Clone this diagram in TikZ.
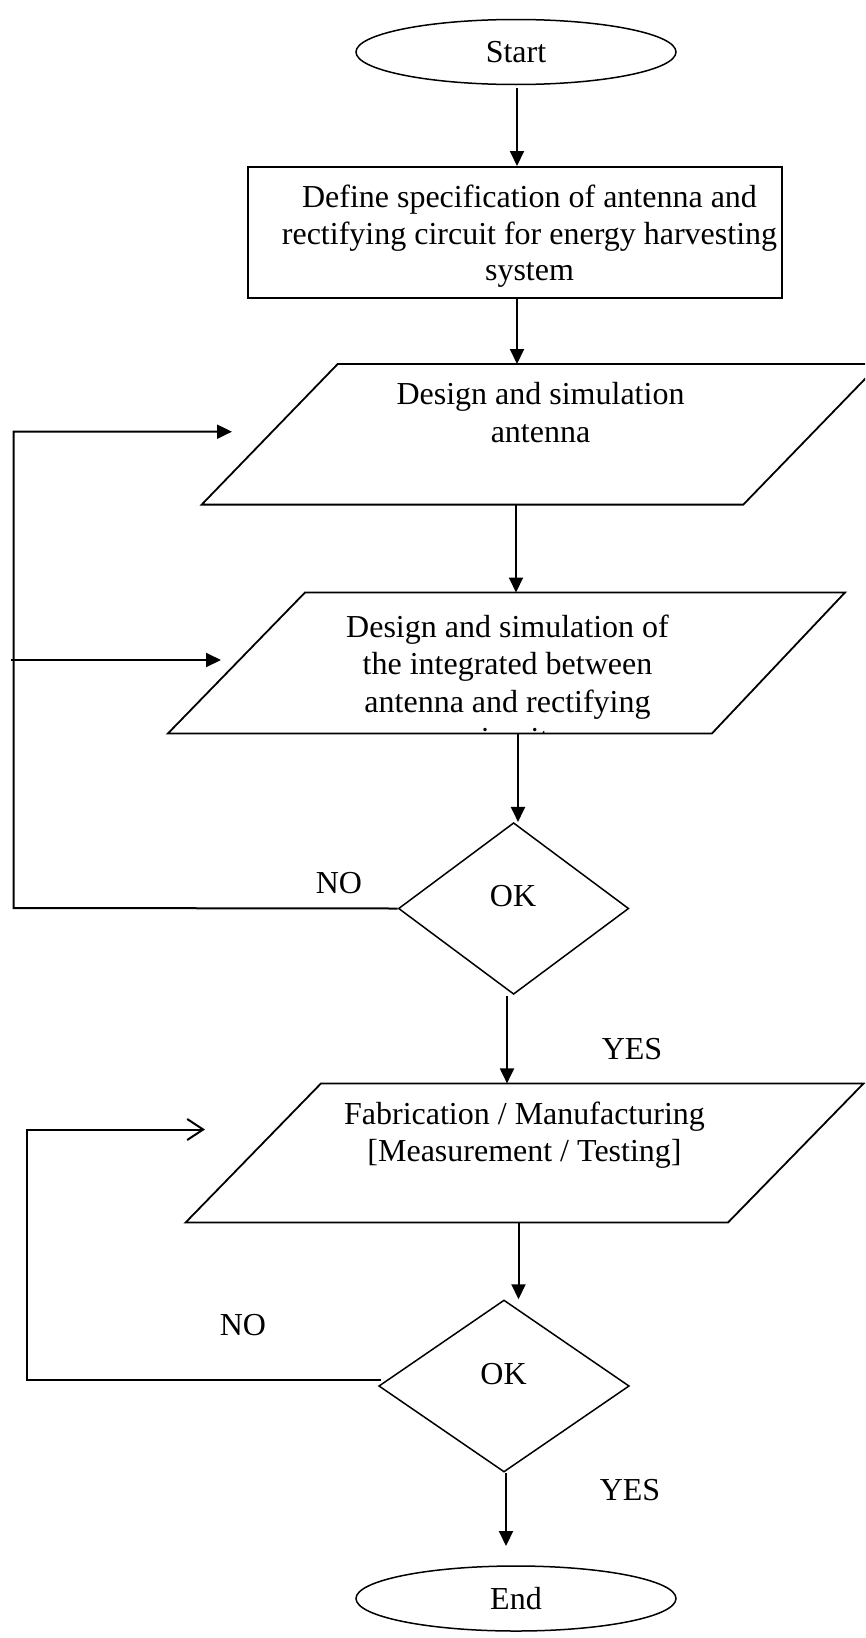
\documentclass[tikz,border=0pt]{standalone}
\usepackage{fontspec}
\setmainfont{Liberation Serif}
\usetikzlibrary{arrows.meta,shapes.geometric}
\begin{document}
\begin{tikzpicture}[x=1pt,y=-1pt,
  font=\fontsize{32}{37.6}\selectfont,
  oval/.style={ellipse, draw, line width=1.5pt, minimum width=320pt, minimum height=65pt, inner sep=0pt},
  box/.style={rectangle, draw, line width=2pt, inner sep=0pt},
  para/.style={draw, line width=1.8pt, line join=miter},
  dia/.style={diamond, draw, line width=1.5pt, inner sep=0pt},
  txt/.style={align=center, inner sep=0pt},
  lbl/.style={anchor=base, inner sep=0pt},
  arr/.style={line width=2pt, -{Triangle[length=15pt,width=14pt]}},
  openarr/.style={line width=2pt, -{Straight Barb[length=16pt,width=21pt,line width=2pt]}}
]
\clip (0,0) rectangle (865,1638);
\fill[white] (0,0) rectangle (865,1638);

% x positions of the vertical connectors
\coordinate (cx1) at (517,0);
\coordinate (cx2) at (516,0);
\coordinate (cx3) at (518,0);
\coordinate (cx4) at (507,0);
\coordinate (cx5) at (518.5,0);
\coordinate (cx6) at (506,0);

% Start
\node[oval] (start) at (516,52) {Start};

% specification box
\node[box, minimum width=534pt, minimum height=131pt] (spec) at (515,232.5) {};
\node[txt, anchor=north, font=\fontsize{32}{36.5}\selectfont] (spect) at (529.5,184.9)
  {Define specification of antenna and\\rectifying circuit for energy harvesting\\system};

% parallelogram 1
\coordinate (p1a) at (337.7,364);
\coordinate (p1b) at (879.5,364);
\coordinate (p1c) at (743.3,504.6);
\coordinate (p1d) at (201.7,504.6);
\draw[para] (p1a) -- (p1b) -- (p1c) -- (p1d) -- cycle;
\node[txt, anchor=north] (p1t) at (540.5,382) {Design and simulation\\antenna};

% parallelogram 2
\coordinate (p2a) at (305,592.5);
\coordinate (p2b) at (845,592.5);
\coordinate (p2c) at (712,733.4);
\coordinate (p2d) at (168,733.4);
\begin{scope}
  \clip (p2a) -- (p2b) -- (p2c) -- (p2d) -- cycle;
  \node[txt, anchor=north] (p2t) at (507.5,614.4)
    {Design and simulation of\\the integrated between\\antenna and rectifying\\circuit};
\end{scope}
\draw[para] (p2a) -- (p2b) -- (p2c) -- (p2d) -- cycle;

% decision 1
\node[dia, minimum width=230.3pt, minimum height=171.6pt] (d1) at (513.6,908.5) {};
\node[lbl] (ok1) at (513,906) {OK};
\node[lbl] (no1) at (339,893) {NO};
\node[lbl] (yes1) at (632,1059) {YES};

% parallelogram 3
\coordinate (p3a) at (321,1083.4);
\coordinate (p3b) at (863.6,1083.4);
\coordinate (p3c) at (728,1222.5);
\coordinate (p3d) at (185.6,1222.5);
\draw[para] (p3a) -- (p3b) -- (p3c) -- (p3d) -- cycle;
\node[txt, anchor=north] (p3t) at (524.5,1101.3)
  {Fabrication / Manufacturing\\{}[Measurement / Testing]};

% decision 2
\node[dia, minimum width=250.5pt, minimum height=172pt] (d2) at (504,1386) {};
\node[lbl] (ok2) at (503.5,1384) {OK};
\node[lbl] (no2) at (243,1335) {NO};
\node[lbl] (yes2) at (630,1500) {YES};

% End
\node[oval] (end) at (516,1598.5) {End};

% main flow connectors
\coordinate (a1s) at (517,88);
\draw[arr] (a1s) -- (a1s |- spec.north);
\draw[arr] (cx1 |- spec.south) -- (cx1 |- p1a);
\draw[arr] (cx2 |- p1d) -- (cx2 |- p2a);
\draw[arr] (cx3 |- p2d) -- (cx3 |- d1.north);
\coordinate (a5s) at (507,996);
\draw[arr] (a5s) -- (cx4 |- p3a);
\draw[arr] (cx5 |- p3d) -- (cx5 |- d2.north);
\coordinate (a7e) at (506,1546);
\draw[arr] (cx6 |- d2.south) -- (a7e);

% loop 1 (NO of decision 1)
\coordinate (l1c) at (13.5,908);
\coordinate (l1t) at (13.5,431.7);
\coordinate (l1e) at (232,431.7);
\draw[arr] (d1.west) -- (l1c) -- (l1t) -- (l1e);
\coordinate (l1bs) at (11,660);
\coordinate (l1be) at (221,660);
\draw[arr] (l1bs) -- (l1be);

% loop 2 (NO of decision 2)
\coordinate (l2s) at (381,1380);
\coordinate (l2c) at (26.7,1380);
\coordinate (l2t) at (26.7,1129.5);
\coordinate (l2e) at (205,1129.5);
\draw[openarr] (l2s) -- (l2c) -- (l2t) -- (l2e);
\end{tikzpicture}
\end{document}
